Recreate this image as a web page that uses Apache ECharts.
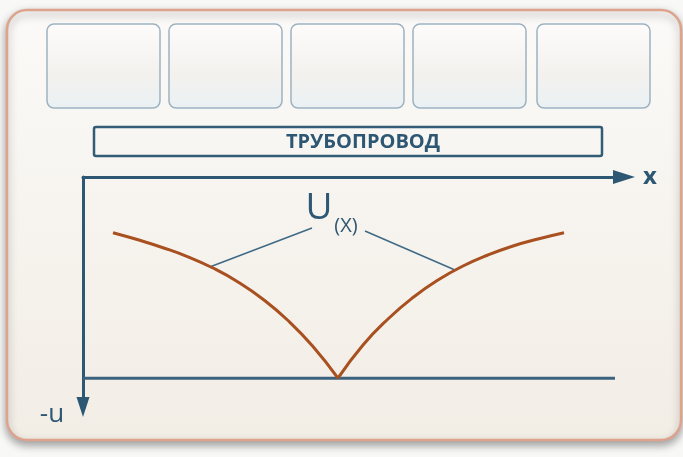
<!DOCTYPE html>
<html>
<head>
    <meta charset="utf-8">
    <title>U(X)</title>
    <script src="https://cdn.jsdelivr.net/npm/echarts@6/dist/echarts.min.js"></script>
    <style type="text/css">
        html,body{margin:0;padding:0;background:#f8f8f7;}
        #main{width:683px;height:457px;}
    </style>
</head>
<body>
<div id="main"></div>
<script type="text/javascript">
    // левая и правая ветви кривой U(x), ось u направлена вниз
    var leftX  = [0.652, 1.196, 1.739, 2.283, 2.826, 3.370, 3.913, 4.457, 5.0, 5.543];
    var leftU  = [1.393, 1.570, 1.768, 1.995, 2.275, 2.623, 3.055, 3.588, 4.238, 5.03];
    var rightX = [5.543, 6.087, 6.630, 7.174, 7.717, 8.261, 8.804, 9.348, 9.891, 10.457];
    var rightU = [5.03, 4.2, 3.55, 3.013, 2.575, 2.225, 1.95, 1.725, 1.55, 1.393];
    // горизонтальная линия (дно)
    var baseX = [0, 11.565];
    var baseU = [5.03, 5.03];
    // выноски к подписи U(X)
    var leaderLeftX = [2.783, 4.978], leaderLeftU = [2.2375, 1.275];
    var leaderRightX = [6.13, 8.087], leaderRightU = [1.35, 2.325];

    function pairs(xs, us){
        var arr = [];
        for(var i=0;i<xs.length;i++){ arr.push([xs[i], us[i]]); }
        return arr;
    }

    var dark = '#2d5773';
    var curveColor = '#a8501f';

    // верхние пустые блоки
    var boxes = [];
    var boxX = [47, 169, 291, 413, 537];
    for(var i=0;i<boxX.length;i++){
        boxes.push({
            type:'rect',
            shape:{x:boxX[i], y:24, width:113, height:84, r:7},
            style:{
                fill:new echarts.graphic.LinearGradient(0,0,0,1,[
                    {offset:0,color:'#fdfcfb'},
                    {offset:0.6,color:'#f3f1ee'},
                    {offset:1,color:'#eaf1f4'}
                ]),
                stroke:'#9db2c1',
                lineWidth:1.5
            }
        });
    }

    var myChart = echarts.init(document.getElementById('main'));
    var option = {
        backgroundColor:'#f8f8f7',
        animation:false,
        graphic:[
            {
                type:'rect',
                z:-10,
                shape:{x:7, y:10, width:674, height:430, r:20},
                style:{
                    fill:new echarts.graphic.LinearGradient(0,0,0,1,[
                        {offset:0,color:'#fbfaf8'},
                        {offset:1,color:'#f2ede5'}
                    ]),
                    stroke:'#dda38d',
                    lineWidth:2.5,
                    shadowBlur:8,
                    shadowOffsetY:4,
                    shadowColor:'rgba(0,0,0,0.35)'
                }
            }
        ].concat(boxes).concat([
            {
                type:'rect',
                shape:{x:94, y:127, width:508, height:29, r:2},
                style:{fill:'none', stroke:'#335c77', lineWidth:2.5}
            },
            {
                type:'text',
                x:363, y:142,
                style:{
                    text:'ТРУБОПРОВОД',
                    fill:dark,
                    font:'bold 20px "Open Sans"',
                    align:'center',
                    verticalAlign:'middle'
                }
            },
            {
                type:'text',
                x:319, y:208,
                style:{
                    text:'U',
                    fill:dark,
                    font:'37px "Open Sans"',
                    align:'center',
                    verticalAlign:'middle'
                }
            },
            {
                type:'text',
                x:346, y:226,
                style:{
                    text:'(X)',
                    fill:dark,
                    font:'20px "Open Sans"',
                    align:'center',
                    verticalAlign:'middle'
                }
            },
            {
                type:'text',
                x:52, y:415,
                style:{
                    text:'-u',
                    fill:dark,
                    font:'26px "Open Sans"',
                    align:'center',
                    verticalAlign:'middle'
                }
            }
        ]),
        grid:{left:83, top:177, width:541, height:230},
        xAxis:{
            type:'value',
            position:'top',
            min:0,
            max:11.761,
            name:'x',
            nameLocation:'end',
            nameGap:19,
            nameTextStyle:{color:dark, fontSize:24, fontWeight:'bold', fontFamily:'Open Sans'},
            axisLine:{
                show:true,
                symbol:['none','triangle'],
                symbolSize:[14,22],
                lineStyle:{color:dark, width:3}
            },
            axisTick:{show:false},
            axisLabel:{show:false},
            splitLine:{show:false}
        },
        yAxis:{
            type:'value',
            inverse:true,
            min:0,
            max:5.75,
            axisLine:{
                show:true,
                symbol:['triangle','none'],
                symbolSize:[13,20],
                lineStyle:{color:dark, width:3}
            },
            axisTick:{show:false},
            axisLabel:{show:false},
            splitLine:{show:false}
        },
        series:[
            {
                name:'дно',
                type:'line',
                data:pairs(baseX, baseU),
                showSymbol:false,
                silent:true,
                lineStyle:{color:'#3b627e', width:3}
            },
            {
                name:'U left',
                type:'line',
                data:pairs(leftX, leftU),
                smooth:true,
                showSymbol:false,
                silent:true,
                z:5,
                lineStyle:{color:curveColor, width:3}
            },
            {
                name:'U right',
                type:'line',
                data:pairs(rightX, rightU),
                smooth:true,
                showSymbol:false,
                silent:true,
                z:5,
                lineStyle:{color:curveColor, width:3}
            },
            {
                type:'line',
                data:pairs(leaderLeftX, leaderLeftU),
                showSymbol:false,
                silent:true,
                lineStyle:{color:'#3f6a86', width:1.5}
            },
            {
                type:'line',
                data:pairs(leaderRightX, leaderRightU),
                showSymbol:false,
                silent:true,
                lineStyle:{color:'#3f6a86', width:1.5}
            }
        ]
    };
    myChart.setOption(option);
</script>
</body>
</html>
